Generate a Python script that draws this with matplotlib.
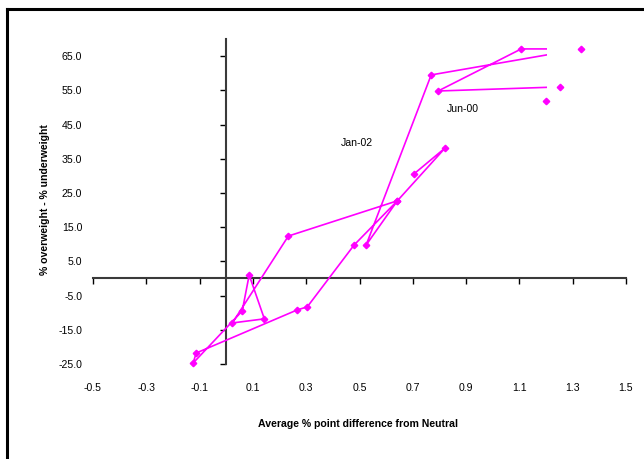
import matplotlib
matplotlib.use("Agg")
import matplotlib.pyplot as plt
from matplotlib.patches import Rectangle
from matplotlib.lines import Line2D

# data (path order)
x_vals = [1.200, 1.253, 0.795, 1.107, 1.332, 0.769, 0.525, 0.642, 0.233, 0.023,
          0.143, 0.086, 0.060, -0.124, -0.113, 0.266, 0.304, 0.480, 0.642, 0.822, 0.705]
y_vals = [51.9, 56.0, 54.8, 67.1, 67.1, 59.5, 9.8, 22.7, 12.4, -13.0,
          -11.8, 1.0, -9.5, -24.7, -21.8, -9.2, -8.3, 9.8, 22.7, 38.2, 30.6]
x_ticks = [-0.5, -0.3, -0.1, 0.1, 0.3, 0.5, 0.7, 0.9, 1.1, 1.3, 1.5]
y_ticks = [-25.0, -15.0, -5.0, 5.0, 15.0, 25.0, 35.0, 45.0, 55.0, 65.0]
annotations = [("Jun-00", 0.889, 49.9), ("Jan-02", 0.492, 39.9)]

FONT = ['Liberation Sans', 'DejaVu Sans']
plt.rcParams['font.family'] = FONT
FS = 7.6

W, H = 644, 460
fig = plt.figure(figsize=(W / 100, H / 100), dpi=100)
fig.patch.set_facecolor('white')

# outer frame (left and top visible)
fig.add_artist(Line2D([7 / W, 7 / W], [0, 1 - 10 / H], color='black', lw=2.2,
                      transform=fig.transFigure))
fig.add_artist(Line2D([7 / W, 1], [1 - 10 / H, 1 - 10 / H], color='black', lw=2.2,
                      transform=fig.transFigure))

ax = fig.add_axes([93 / W, 1 - 365 / H, 533 / W, 325 / H])
ax.set_xlim(-0.5, 1.5)
ax.set_ylim(-25, 70)
ax.set_facecolor('none')

for s in ['top', 'right']:
    ax.spines[s].set_visible(False)
ax.spines['left'].set_position(('data', 0))
ax.spines['bottom'].set_position(('data', 0))
axis_col = '#3a3a3a'
for s in ['left', 'bottom']:
    ax.spines[s].set_color(axis_col)
    ax.spines[s].set_linewidth(1.5)

ax.set_xticks(x_ticks)
ax.set_yticks(y_ticks)
ax.tick_params(axis='x', direction='out', length=4, width=1, color='black', labelbottom=False)
ax.tick_params(axis='y', direction='out', length=4, width=1, color='black', labelleft=False)

# tick labels at the outer edges
for xv in x_ticks:
    ax.text(xv, -0.07, f"{xv:.1f}", transform=ax.get_xaxis_transform(),
            ha='center', va='center', fontsize=FS, color='black')
for yv in y_ticks:
    ax.text(-0.02, yv, f"{yv:.1f}", transform=ax.get_yaxis_transform(),
            ha='right', va='center', fontsize=FS, color='black')

mag = '#ff00ff'
clip = Rectangle((-0.5, -25), 1.705, 95, transform=ax.transData)
line, = ax.plot(x_vals, y_vals, color=mag, lw=1.2, zorder=3)
line.set_clip_path(clip)
ax.plot(x_vals, y_vals, linestyle='none', marker='D', markersize=3.3,
        color=mag, markeredgecolor=mag, zorder=4, clip_on=False)

for txt, xv, yv in annotations:
    ax.text(xv, yv, txt, ha='center', va='center', fontsize=FS, color='black')

fig.text(358 / W, 1 - 424 / H, "Average % point difference from Neutral",
         ha='center', va='center', fontsize=FS, fontweight='bold')
fig.text(45 / W, 1 - 200 / H, "% overweight - % underweight", rotation=90,
         ha='center', va='center', fontsize=FS, fontweight='bold')

fig.savefig("out.png", dpi=100)
